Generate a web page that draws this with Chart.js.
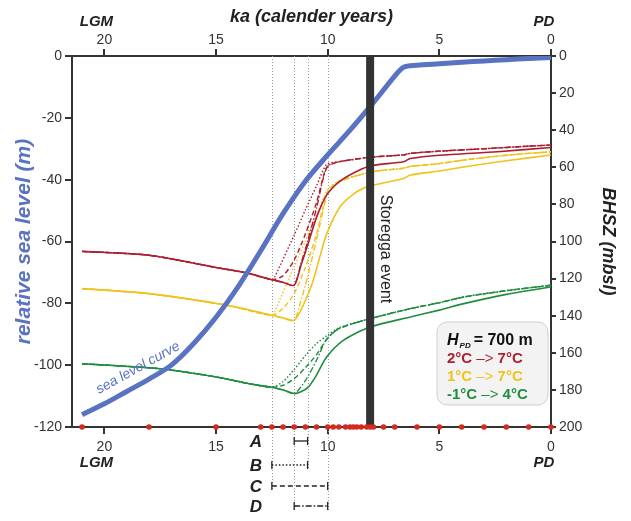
<!DOCTYPE html>
<html><head><meta charset="utf-8">
<script src="https://cdn.jsdelivr.net/npm/chart.js@4/dist/chart.umd.min.js"></script>
<style>html,body{margin:0;padding:0;background:#fff}</style>
</head><body>
<canvas id="c" width="631" height="521"></canvas>
<script>
// ---------- DATA ----------
const kaTicks = [20, 15, 10, 5, 0];
const seaTicks = [0, -20, -40, -60, -80, -100, -120];
const bhszTicks = [0, 20, 40, 60, 80, 100, 120, 140, 160, 180, 200];

// sea level curve [ka, m]
const seaLevel = [[21,-116],[20,-112.5],[19,-108.5],[18,-104.5],[17,-100],[16,-93],[15,-84.5],[14,-74.5],[13,-63],[12,-51],[11,-40.5],[10,-32],[9,-24],[8,-15.5],[7,-6.5],[6.6,-3.6],[6,-3],[5,-2.5],[4,-2],[3,-1.6],[2,-1.2],[1,-0.8],[0,-0.5]];

// BHSZ curves [ka, mbsl]
const red2to7A = [[21,105.3],[18,107.4],[15,114],[13.6,117],[12.5,120.6],[12,122],[11.5,123.6],[11.2,113],[10.9,102],[10.5,87],[10.05,75],[9.4,67],[8.5,61],[8,59],[6.6,57],[6.3,55.3],[5,53.5],[2.4,51.6],[0,49.3]];
const red2to7B = [[21,105.3],[18,107.4],[15,114],[13.6,117],[12.5,120.6],[12.37,119],[11.5,96.5],[11,83],[10.5,70],[10.05,58.5],[9.5,57],[8,54.5],[6.6,53.3],[6.3,52.5],[5,51.3],[3,50],[1,48.6],[0,48]];
const red2to7C = [[21,105.3],[18,107.4],[15,114],[13.6,117],[12.5,120.6],[12,118.5],[11.5,110],[11,96],[10.5,79],[10.15,63],[10,59.5],[9.5,57],[8,54.5],[6.6,53.3],[6.3,52.5],[5,51.3],[3,50],[1,48.6],[0,48]];
const red2to7D = [[21,105.3],[18,107.4],[15,114],[13.6,117],[12.5,120.6],[12,122],[11.5,123.6],[11.2,112],[10.9,100],[10.5,82],[10.2,66],[10,59.5],[9.5,57],[8,54.5],[6.6,53.3],[6.3,52.5],[5,51.3],[3,50],[1,48.6],[0,48]];

const yel1to7A = [[21,125.4],[18,128.1],[14.5,134.4],[12.5,139.8],[12,141.2],[11.5,142.5],[11.2,137],[10.9,129],[10.65,121],[10.3,106],[10.05,96],[9.45,81.3],[8.8,74],[8.25,70.5],[7.95,69.6],[6.6,66],[6.3,64.2],[5,62],[3.9,59.8],[2,56.5],[0,53.4]];
const yel1to7B = [[21,125.4],[18,128.1],[14.5,134.4],[12.5,139.8],[12.37,137.5],[11.5,113.5],[11,99.7],[10.5,85.9],[10,72],[9.5,67.5],[8,62.4],[6.6,60.5],[6.3,59.5],[5,58],[3.9,56.1],[2,53.5],[0,51.6]];
const yel1to7C = [[21,125.4],[18,128.1],[14.5,134.4],[12.5,139.8],[12,136],[11.5,128],[11,114],[10.5,96],[10.2,81],[10,73],[9.5,67.5],[8,62.4],[6.6,60.5],[6.3,59.5],[5,58],[3.9,56.1],[2,53.5],[0,51.6]];
const yel1to7D = [[21,125.4],[18,128.1],[14.5,134.4],[12.5,139.8],[12,141.2],[11.5,142.5],[11.2,132],[10.9,119],[10.5,99],[10.2,83],[10,74],[9.5,68],[8,62.4],[6.6,60.5],[6.3,59.5],[5,58],[3.9,56.1],[2,53.5],[0,51.6]];

const grn1to4A = [[21,165.9],[17.5,168.6],[15,173],[13.5,176.7],[12.5,178.6],[12,180],[11.5,182],[11.2,181],[10.87,178.5],[10.5,172],[10.05,162.3],[9.3,153.3],[8.1,146.1],[6.3,140.7],[5,137],[3.9,133.5],[2,128.5],[0,124.5]];
const grn1to4B = [[21,165.9],[17.5,168.6],[15,173],[13.5,176.7],[12.5,178.6],[12,175.5],[11.5,169],[11,161.5],[10.5,155],[10,150.5],[9.5,146.5],[8.1,141.6],[6.3,136.2],[5,133],[3.9,129.9],[2,126.5],[0,123.6]];
const grn1to4C = [[21,165.9],[17.5,168.6],[15,173],[13.5,176.7],[12.5,178.6],[12,177.5],[11.5,174],[11,168],[10.5,161],[10,152],[9.5,147],[8.1,141.6],[6.3,136.2],[5,133],[3.9,129.9],[2,126.5],[0,123.6]];
const grn1to4D = [[21,165.9],[17.5,168.6],[15,173],[13.5,176.7],[12.5,178.6],[12,180],[11.5,182],[11,175],[10.5,164],[10.2,156],[10,152],[9.5,147],[8.1,141.6],[6.3,136.2],[5,133],[3.9,129.9],[2,126.5],[0,123.6]];

// model time steps (red dots on the base axis)
const timeSteps = [21,18,15,13,12.5,12,11.5,11,10.5,10,9.75,9.5,9.2,9,8.85,8.7,8.5,8.25,8.1,7.95,7.5,7,6,5,4,3,2,1,0];
const storeggaKa = 8.1;
// warming periods (ka start, ka end)
const periodNames = ['A','B','C','D'];
const periodStart = [11.5, 12.5, 12.5, 11.5];
const periodEnd   = [10.9, 10.9, 10.0, 10.0];
const guideLines = [12.5, 11.5, 10.9, 10.0];
const legendTitle = '= 700 m';
const legendRows = [['2°C','7°C'],['1°C','7°C'],['-1°C','4°C']];

// ---------- STYLE ----------
const BLUE = '#5a72c2', RED = '#ad1f30', YEL = '#f2c21b', GRN = '#1f8d3f', AX = '#333333';
const FONT = 'Liberation Sans, Arial, sans-serif';
const styles = { A: [], B: [1.5, 2], C: [5, 3], D: [6, 2, 1.5, 2] };
const pts = a => a.map(p => ({x: p[0], y: p[1]}));

function bhsz(data, color, key, ord) {
  return { data: pts(data), yAxisID: 'y2', borderColor: color, borderWidth: key === 'A' ? 1.6 : 1.4,
    borderDash: styles[key], pointRadius: 0, fill: false, tension: 0.25, order: ord };
}

const datasets = [
  { type: 'scatter', data: timeSteps.map(t => ({x: t, y: -120})), yAxisID: 'y', pointRadius: 2.8,
    pointBackgroundColor: '#d42a1f', pointBorderWidth: 0, clip: false, order: 0 },
  { data: [{x: storeggaKa, y: -120}, {x: storeggaKa, y: 0}], yAxisID: 'y', borderColor: '#333', borderWidth: 8,
    pointRadius: 0, order: 1 },
  { data: pts(seaLevel), yAxisID: 'y', borderColor: BLUE, borderWidth: 5, pointRadius: 0, tension: 0.3, order: 2 },
  bhsz(red2to7A, RED, 'A', 3), bhsz(red2to7B, RED, 'B', 4), bhsz(red2to7C, RED, 'C', 4), bhsz(red2to7D, RED, 'D', 4),
  bhsz(yel1to7A, YEL, 'A', 5), bhsz(yel1to7B, YEL, 'B', 6), bhsz(yel1to7C, YEL, 'C', 6), bhsz(yel1to7D, YEL, 'D', 6),
  bhsz(grn1to4A, GRN, 'A', 7), bhsz(grn1to4B, GRN, 'B', 8), bhsz(grn1to4C, GRN, 'C', 8), bhsz(grn1to4D, GRN, 'D', 8)
];

const tickFont = { family: FONT, size: 14 };
const titleFont = { family: FONT, size: 18, weight: 'bold', style: 'italic' };
const grid = (len) => ({ drawOnChartArea: false, drawTicks: true, tickLength: len, color: AX, lineWidth: 2 });
const border = { display: true, color: AX, width: 2 };

function xAxis(pos, h, title, pad) {
  return { type: 'linear', position: pos, min: 0, max: 21.45, reverse: true,
    afterBuildTicks: s => { s.ticks = kaTicks.map(v => ({value: v})); },
    ticks: { font: tickFont, color: AX, padding: pad, maxRotation: 0 },
    grid: grid(7), border: border,
    title: title ? { display: true, text: title, font: titleFont, color: '#222', padding: {top: 6, bottom: 0} } : {display: false},
    afterFit: s => { s.height = h; } };
}

const annot = {
  id: 'annot',
  beforeDatasetsDraw(chart) {
    const {ctx, chartArea: ca, scales: {x}} = chart;
    ctx.save();
    ctx.strokeStyle = '#9a9a9a'; ctx.lineWidth = 1; ctx.setLineDash([1, 2]);
    const ends = [490, 510, 468, 510];
    guideLines.forEach((k, i) => {
      const px = Math.round(x.getPixelForValue(k)) + 0.5;
      ctx.beginPath(); ctx.moveTo(px, ca.top); ctx.lineTo(px, ends[i]); ctx.stroke();
    });
    ctx.restore();
  },
  afterDraw(chart) {
    const {ctx, chartArea: ca, scales: {x}} = chart;
    ctx.save();
    // LGM / PD
    ctx.fillStyle = '#222'; ctx.font = 'italic bold 15px ' + FONT; ctx.textAlign = 'center'; ctx.textBaseline = 'middle';
    ctx.fillText('LGM', x.getPixelForValue(20) - 8, 463);
    ctx.fillText('PD', x.getPixelForValue(0) - 7, 463);
    ctx.fillText('LGM', x.getPixelForValue(20) - 8, 22);
    ctx.fillText('PD', x.getPixelForValue(0) - 7, 22);
    // periods A-D
    const rowY = [441, 465, 486, 506];
    ctx.font = 'italic bold 17px ' + FONT;
    periodNames.forEach((n, i) => {
      ctx.fillStyle = '#222'; ctx.textAlign = 'center';
      ctx.fillText(n, 256, rowY[i] + 1);
      const x0 = x.getPixelForValue(periodStart[i]), x1 = x.getPixelForValue(periodEnd[i]);
      ctx.strokeStyle = '#222'; ctx.lineWidth = 1.3;
      ctx.setLineDash(i === 0 ? [] : styles[periodNames[i]]);
      ctx.beginPath(); ctx.moveTo(x0, rowY[i]); ctx.lineTo(x1, rowY[i]); ctx.stroke();
      ctx.setLineDash([]);
      ctx.beginPath(); ctx.moveTo(x0, rowY[i] - 4); ctx.lineTo(x0, rowY[i] + 4);
      ctx.moveTo(x1, rowY[i] - 4); ctx.lineTo(x1, rowY[i] + 4); ctx.stroke();
    });
    // Storegga text
    ctx.save();
    ctx.translate(x.getPixelForValue(storeggaKa) + 15, 249);
    ctx.rotate(Math.PI / 2);
    ctx.fillStyle = '#222'; ctx.font = '16px ' + FONT; ctx.textAlign = 'center'; ctx.textBaseline = 'middle';
    ctx.fillText('Storegga event', 0, 0);
    ctx.restore();
    // sea level curve label
    ctx.save();
    ctx.translate(138, 368); ctx.rotate(-29 * Math.PI / 180);
    ctx.fillStyle = BLUE; ctx.font = 'italic 14px ' + FONT; ctx.textAlign = 'center'; ctx.textBaseline = 'middle';
    ctx.fillText('sea level curve', 0, 0);
    ctx.restore();
    // legend box
    const bx = 437, by = 322, bw = 111, bh = 83, r = 10;
    ctx.beginPath();
    ctx.moveTo(bx + r, by); ctx.arcTo(bx + bw, by, bx + bw, by + bh, r); ctx.arcTo(bx + bw, by + bh, bx, by + bh, r);
    ctx.arcTo(bx, by + bh, bx, by, r); ctx.arcTo(bx, by, bx + bw, by, r); ctx.closePath();
    ctx.fillStyle = '#f3f3f3'; ctx.fill(); ctx.strokeStyle = '#cfcfcf'; ctx.lineWidth = 1; ctx.stroke();
    ctx.textAlign = 'left'; ctx.textBaseline = 'alphabetic';
    let tx = 447, ty = 345;
    ctx.fillStyle = '#111';
    ctx.font = 'italic bold 16px ' + FONT; ctx.fillText('H', tx, ty); tx += ctx.measureText('H').width + 1;
    ctx.font = 'italic bold 8px ' + FONT; ctx.fillText('PD', tx, ty + 3); tx += ctx.measureText('PD').width + 3;
    ctx.font = 'bold 16px ' + FONT; ctx.fillText(legendTitle, tx, ty);
    const cols = [RED, YEL, GRN];
    legendRows.forEach((row, i) => {
      let lx = 447; const ly = 363 + i * 18;
      ctx.fillStyle = cols[i];
      ctx.font = 'bold 15px ' + FONT; ctx.fillText(row[0], lx, ly); lx += ctx.measureText(row[0]).width;
      ctx.font = '15px ' + FONT; ctx.fillText(' –> ', lx, ly); lx += ctx.measureText(' –> ').width;
      ctx.font = 'bold 15px ' + FONT; ctx.fillText(row[1], lx, ly);
    });
    ctx.restore();
  }
};

new Chart(document.getElementById('c'), {
  type: 'line',
  data: { datasets },
  options: {
    responsive: false, animation: false, devicePixelRatio: 1,
    layout: { padding: { left: 12, right: 12, top: 0, bottom: 0 } },
    plugins: { legend: { display: false }, tooltip: { enabled: false } },
    scales: {
      x: xAxis('bottom', 94, null, 5),
      xTop: xAxis('top', 56, 'ka (calender years)', 0),
      y: { type: 'linear', position: 'left', min: -120, max: 0,
        afterBuildTicks: s => { s.ticks = seaTicks.map(v => ({value: v})); },
        ticks: { font: tickFont, color: AX, padding: 3 }, grid: grid(7), border: border,
        title: { display: true, text: 'relative sea level (m)', font: { family: FONT, size: 21, weight: 'bold', style: 'italic' }, color: BLUE, padding: {top: 0, bottom: 0} },
        afterFit: s => { s.width = 60; } },
      y2: { type: 'linear', position: 'right', min: 0, max: 200, reverse: true,
        afterBuildTicks: s => { s.ticks = bhszTicks.map(v => ({value: v})); },
        ticks: { font: tickFont, color: AX, padding: 3 }, grid: grid(5), border: border,
        title: { display: true, text: 'BHSZ (mbsl)', font: titleFont, color: '#222', padding: {top: 0, bottom: 0} },
        afterFit: s => { s.width = 68; } }
    }
  },
  plugins: [annot]
});
</script>
</body></html>
